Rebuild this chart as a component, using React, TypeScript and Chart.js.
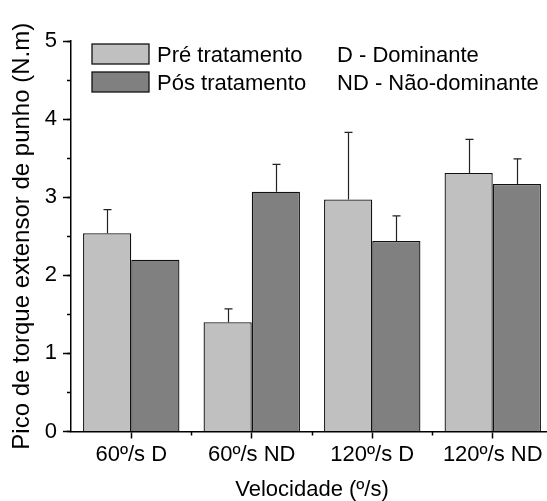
import React, { useEffect, useRef } from "react";
import { Chart, registerables } from "chart.js";

Chart.register(...registerables);

const categories = ["60º/s D", "60º/s ND", "120º/s D", "120º/s ND"];
const seriesLabels = ["Pré tratamento", "Pós tratamento"];
const preValues = [2.54, 1.4, 2.97, 3.31];
const preErrors = [0.3, 0.17, 0.86, 0.43];
const postValues = [2.2, 3.07, 2.44, 3.17];
const postErrors = [0, 0.35, 0.32, 0.32];
const notes = ["D - Dominante", "ND - Não-dominante"];
const yTitle = "Pico de torque extensor de punho (N.m)";
const xTitle = "Velocidade (º/s)";

const FONT = "'Liberation Sans', Arial, sans-serif";
const PRE_COLOR = "#c0c0c0";
const POST_COLOR = "#808080";

const errorBarPlugin = {
  id: "errorBars",
  afterDatasetsDraw(chart: any) {
    const ctx = chart.ctx;
    const yScale = chart.scales.y;
    const errs = [preErrors, postErrors];
    ctx.save();
    ctx.strokeStyle = "#222";
    ctx.lineWidth = 1.2;
    chart.data.datasets.forEach((ds: any, di: number) => {
      const meta = chart.getDatasetMeta(di);
      meta.data.forEach((el: any, i: number) => {
        const e = errs[di][i];
        if (!e) return;
        const v = ds.data[i];
        const yTop = yScale.getPixelForValue(v + e);
        const x = Math.round(el.x) + 0.5;
        ctx.beginPath();
        ctx.moveTo(x, el.y);
        ctx.lineTo(x, yTop);
        ctx.moveTo(x - 4, yTop);
        ctx.lineTo(x + 4, yTop);
        ctx.stroke();
      });
    });
    ctx.restore();
  },
};

const legendPlugin = {
  id: "customLegend",
  afterDraw(chart: any) {
    const ctx = chart.ctx;
    ctx.save();
    ctx.font = `22px ${FONT}`;
    ctx.textBaseline = "alphabetic";
    ctx.fillStyle = "#000";
    chart.data.datasets.forEach((ds: any, i: number) => {
      const top = 44 + i * 28;
      ctx.fillStyle = ds.backgroundColor;
      ctx.fillRect(92, top, 57, 20);
      ctx.strokeStyle = "#111";
      ctx.lineWidth = 1.3;
      ctx.strokeRect(92, top, 57, 20);
      ctx.fillStyle = "#000";
      ctx.fillText(ds.label, 157, 62 + i * 28);
      ctx.fillText(notes[i], 337, 62 + i * 28);
    });
    ctx.restore();
  },
};

export default function App() {
  const ref = useRef<HTMLCanvasElement>(null);
  useEffect(() => {
    if (!ref.current) return;
    const chart = new Chart(ref.current, {
      type: "bar",
      data: {
        labels: categories,
        datasets: [
          {
            label: seriesLabels[0],
            data: preValues,
            backgroundColor: PRE_COLOR,
            borderColor: "#111",
            borderWidth: 1.3,
            categoryPercentage: 0.8,
            barPercentage: 1,
          },
          {
            label: seriesLabels[1],
            data: postValues,
            backgroundColor: POST_COLOR,
            borderColor: "#111",
            borderWidth: 1.3,
            categoryPercentage: 0.8,
            barPercentage: 1,
          },
        ],
      },
      options: {
        animation: false,
        responsive: false,
        layout: { padding: { top: 41, right: 0, left: 0, bottom: 0 } },
        plugins: { legend: { display: false }, tooltip: { enabled: false } },
        scales: {
          x: {
            type: "category",
            position: "bottom",
            weight: 1,
            offset: true,
            grid: {
              offset: false,
              drawOnChartArea: false,
              tickLength: 7,
              tickWidth: 1.5,
              color: "#000",
            },
            border: { display: true, color: "#000", width: 1.5 },
            ticks: {
              color: "#000",
              font: { family: FONT, size: 22 },
              padding: 3,
              maxRotation: 0,
              autoSkip: false,
            },
            title: {
              display: true,
              text: xTitle,
              color: "#000",
              font: { family: FONT, size: 22, lineHeight: 1.05 },
              padding: 0,
            },
            afterFit(s: any) {
              s.height = 69.5;
            },
          },
          x2: {
            type: "category",
            position: "bottom",
            weight: 0,
            offset: true,
            grid: {
              offset: true,
              drawOnChartArea: false,
              tickLength: 4,
              tickWidth: 1.5,
              color: (c: any) => (c.index === 0 ? "rgba(0,0,0,0)" : "#000"),
            },
            border: { display: false },
            ticks: { display: false },
            afterFit(s: any) {
              s.height = 0;
            },
          },
          y: {
            type: "linear",
            position: "left",
            weight: 1,
            min: 0,
            max: 5,
            ticks: {
              stepSize: 1,
              color: "#000",
              font: { family: FONT, size: 22 },
              padding: 6,
            },
            grid: {
              drawOnChartArea: false,
              tickLength: 8,
              tickWidth: 1.5,
              color: "#000",
            },
            border: { display: true, color: "#000", width: 1.5 },
            title: {
              display: true,
              text: yTitle,
              color: "#000",
              font: { family: FONT, size: 24, lineHeight: 1.2 },
              padding: { top: 8, bottom: 0 },
            },
            afterFit(s: any) {
              s.width = 71;
            },
          },
          y2: {
            type: "linear",
            position: "left",
            weight: 0,
            min: 0,
            max: 5,
            ticks: { display: false, stepSize: 0.5 },
            grid: {
              drawOnChartArea: false,
              tickLength: 4,
              tickWidth: 1.5,
              color: "#000",
            },
            border: { display: false },
            afterFit(s: any) {
              s.width = 0;
            },
          },
        },
      },
      plugins: [errorBarPlugin, legendPlugin],
    } as any);
    return () => chart.destroy();
  }, []);
  return (
    <div
      style={{
        position: "fixed",
        left: 0,
        top: 0,
        width: 547,
        height: 501,
        overflow: "hidden",
        background: "#fff",
      }}
    >
      <canvas ref={ref} width={553} height={501} style={{ display: "block" }} />
    </div>
  );
}
